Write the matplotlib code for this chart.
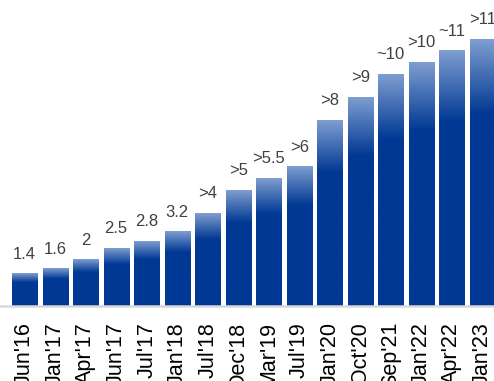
import numpy as np
import matplotlib
matplotlib.use("Agg")
import matplotlib.pyplot as plt
from matplotlib.colors import LinearSegmentedColormap

plt.rcParams["font.family"] = ["Liberation Sans", "DejaVu Sans"]

periods = ["Jun'16", "Jan'17", "Apr'17", "Jun'17", "Jul'17", "Jan'18", "Jul'18", "Dec'18",
           "Mar'19", "Jul'19", "Jan'20", "Oct'20", "Sep'21", "Jan'22", "Apr'22", "Jan'23"]
values = [1.4, 1.6, 2, 2.5, 2.8, 3.2, 4, 5, 5.5, 6, 8, 9, 10, 10.5, 11, 11.5]
value_labels = ["1.4", "1.6", "2", "2.5", "2.8", "3.2", ">4", ">5", ">5.5", ">6",
                ">8", ">9", "~10", ">10", "~11", ">11"]

dark = "#003893"
light = "#7f9ed0"
# gradient: light at the top, dark from ~28% down the bar
cmap = LinearSegmentedColormap.from_list("bar", [(0, dark), (0.72, dark), (1, light)])
grad = np.linspace(0, 1, 256).reshape(-1, 1)

fig = plt.figure(figsize=(4.94, 3.81), dpi=100)
ax = fig.add_axes([0, 75 / 381, 1, 306 / 381])

x = np.arange(len(values))
w = 0.82
bars = ax.bar(x, values, width=w, color="none", edgecolor="none")
for b, v in zip(bars, values):
    x0 = b.get_x()
    ax.imshow(grad, extent=[x0, x0 + w, 0, v], origin="lower", aspect="auto",
              cmap=cmap, interpolation="bilinear", zorder=2)

for xi, v, lab in zip(x, values, value_labels):
    ax.annotate(lab, (xi, v), xytext=(0, 10.8), textcoords="offset points",
                ha="center", va="baseline", fontsize=12, color="#404040")

ax.set_xlim(-0.8025, 15.378)
ax.set_ylim(0, 13.19)
ax.set_aspect("auto")
ax.set_xticks(x)
ax.set_xticklabels(periods, rotation=90, fontsize=15.5, color="black")
ax.tick_params(axis="x", length=0, pad=11.5)
ax.set_yticks([])
for s in ["top", "right", "left"]:
    ax.spines[s].set_visible(False)
ax.spines["bottom"].set_color("#d9d9d9")
ax.spines["bottom"].set_linewidth(1.8)
ax.patch.set_alpha(0)

fig.savefig("out.png", dpi=100)
